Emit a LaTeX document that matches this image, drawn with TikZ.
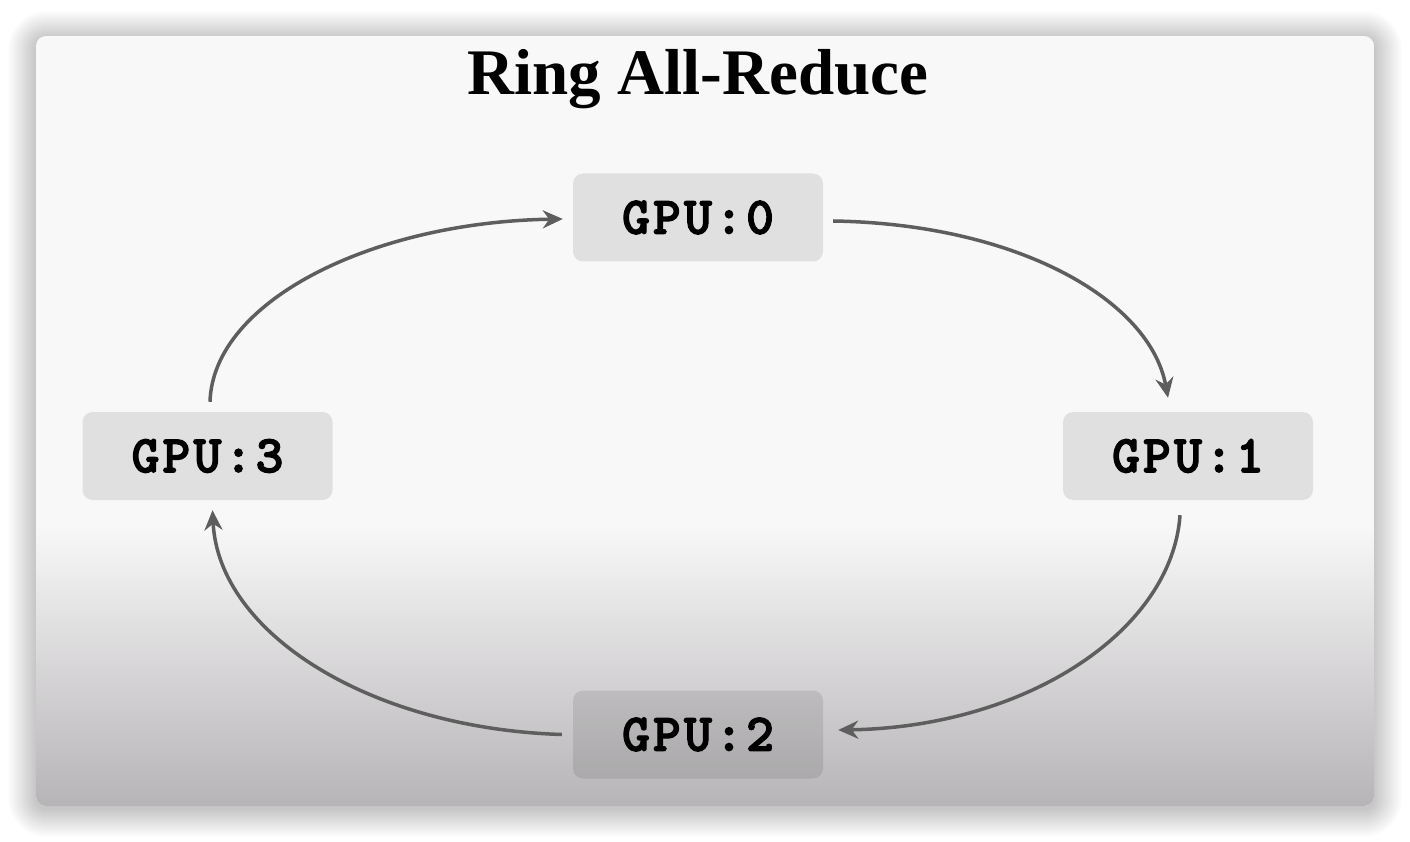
\documentclass[tikz,border=0pt]{standalone}
\usepackage{fontspec}
\setmainfont{Liberation Serif}
\newfontfamily\gpufont{lmmonolt10-bold.otf}[LetterSpace=6, FakeBold=2.5]
\usetikzlibrary{arrows.meta,calc}
\definecolor{cardtop}{HTML}{F9F8F9}
\definecolor{cardbot}{HTML}{B6B4B6}
\definecolor{arrowgray}{HTML}{5E5E5E}
\begin{document}
\begin{tikzpicture}[x=1pt,y=-1pt,
  gpubox/.style={rounded corners=10pt, minimum width=250pt, minimum height=88pt, inner sep=0pt,
    fill=black, fill opacity=0.095, text opacity=1, text=black,
    font=\gpufont\fontsize{53}{53}\selectfont},
  ring/.style={draw=arrowgray, line width=3.5pt, -{Stealth[length=20pt,width=18pt]}},
  title/.style={font=\bfseries\fontsize{65}{65}\selectfont, anchor=base, inner sep=0pt}]
\useasboundingbox (0,0) rectangle (1410,842);
\fill[white] (0,0) rectangle (1410,842);
% shadow
\foreach \i [evaluate=\i as \r using 10+\i] in {1,...,28}
  \fill[black, opacity=0.0065, rounded corners=\r pt] ({36-\i},{39-\i}) rectangle ({1374+\i},{809+\i});
% card
\begin{scope}
  \clip[rounded corners=10pt] (36,36) rectangle (1374,806);
  \fill[cardtop] (36,36) rectangle (1374,806);
  \shade[top color=cardtop, bottom color=cardbot] (36,525) rectangle (1374,807);
\end{scope}
% title
\node[title] (ttl) at (698,95) {Ring All-Reduce};
% boxes
\node[gpubox] (g0) at (698,217.5) {GPU:0};
\node[gpubox] (g1) at (1188,456) {GPU:1};
\node[gpubox] (g2) at (698,734.5) {GPU:2};
\node[gpubox] (g3) at (207.5,456) {GPU:3};
% connector ends
\coordinate (s1) at ($(g0.east)+(10,3.5)$);
\coordinate (e1) at ($(g1.north)+(-20,-14)$);
\coordinate (s2) at ($(g1.south)+(-8,15)$);
\coordinate (e2) at ($(g2.east)+(15,-4.5)$);
\coordinate (s3) at ($(g2.west)+(-11,0)$);
\coordinate (e3) at ($(g3.south)+(5,10)$);
\coordinate (s4) at ($(g3.north)+(2.5,-10)$);
\coordinate (e4) at ($(g0.west)+(-10,1.5)$);
% ring
\draw[ring] (s1) .. controls +(184,3) and +(-18,-98) .. (e1);
\draw[ring] (s2) .. controls +(-8,115) and +(189,-3) .. (e2);
\draw[ring] (s3) .. controls +(-192,-6) and +(6,123) .. (e3);
\draw[ring] (s4) .. controls +(3,-101) and +(-190,3) .. (e4);
\end{tikzpicture}
\end{document}
